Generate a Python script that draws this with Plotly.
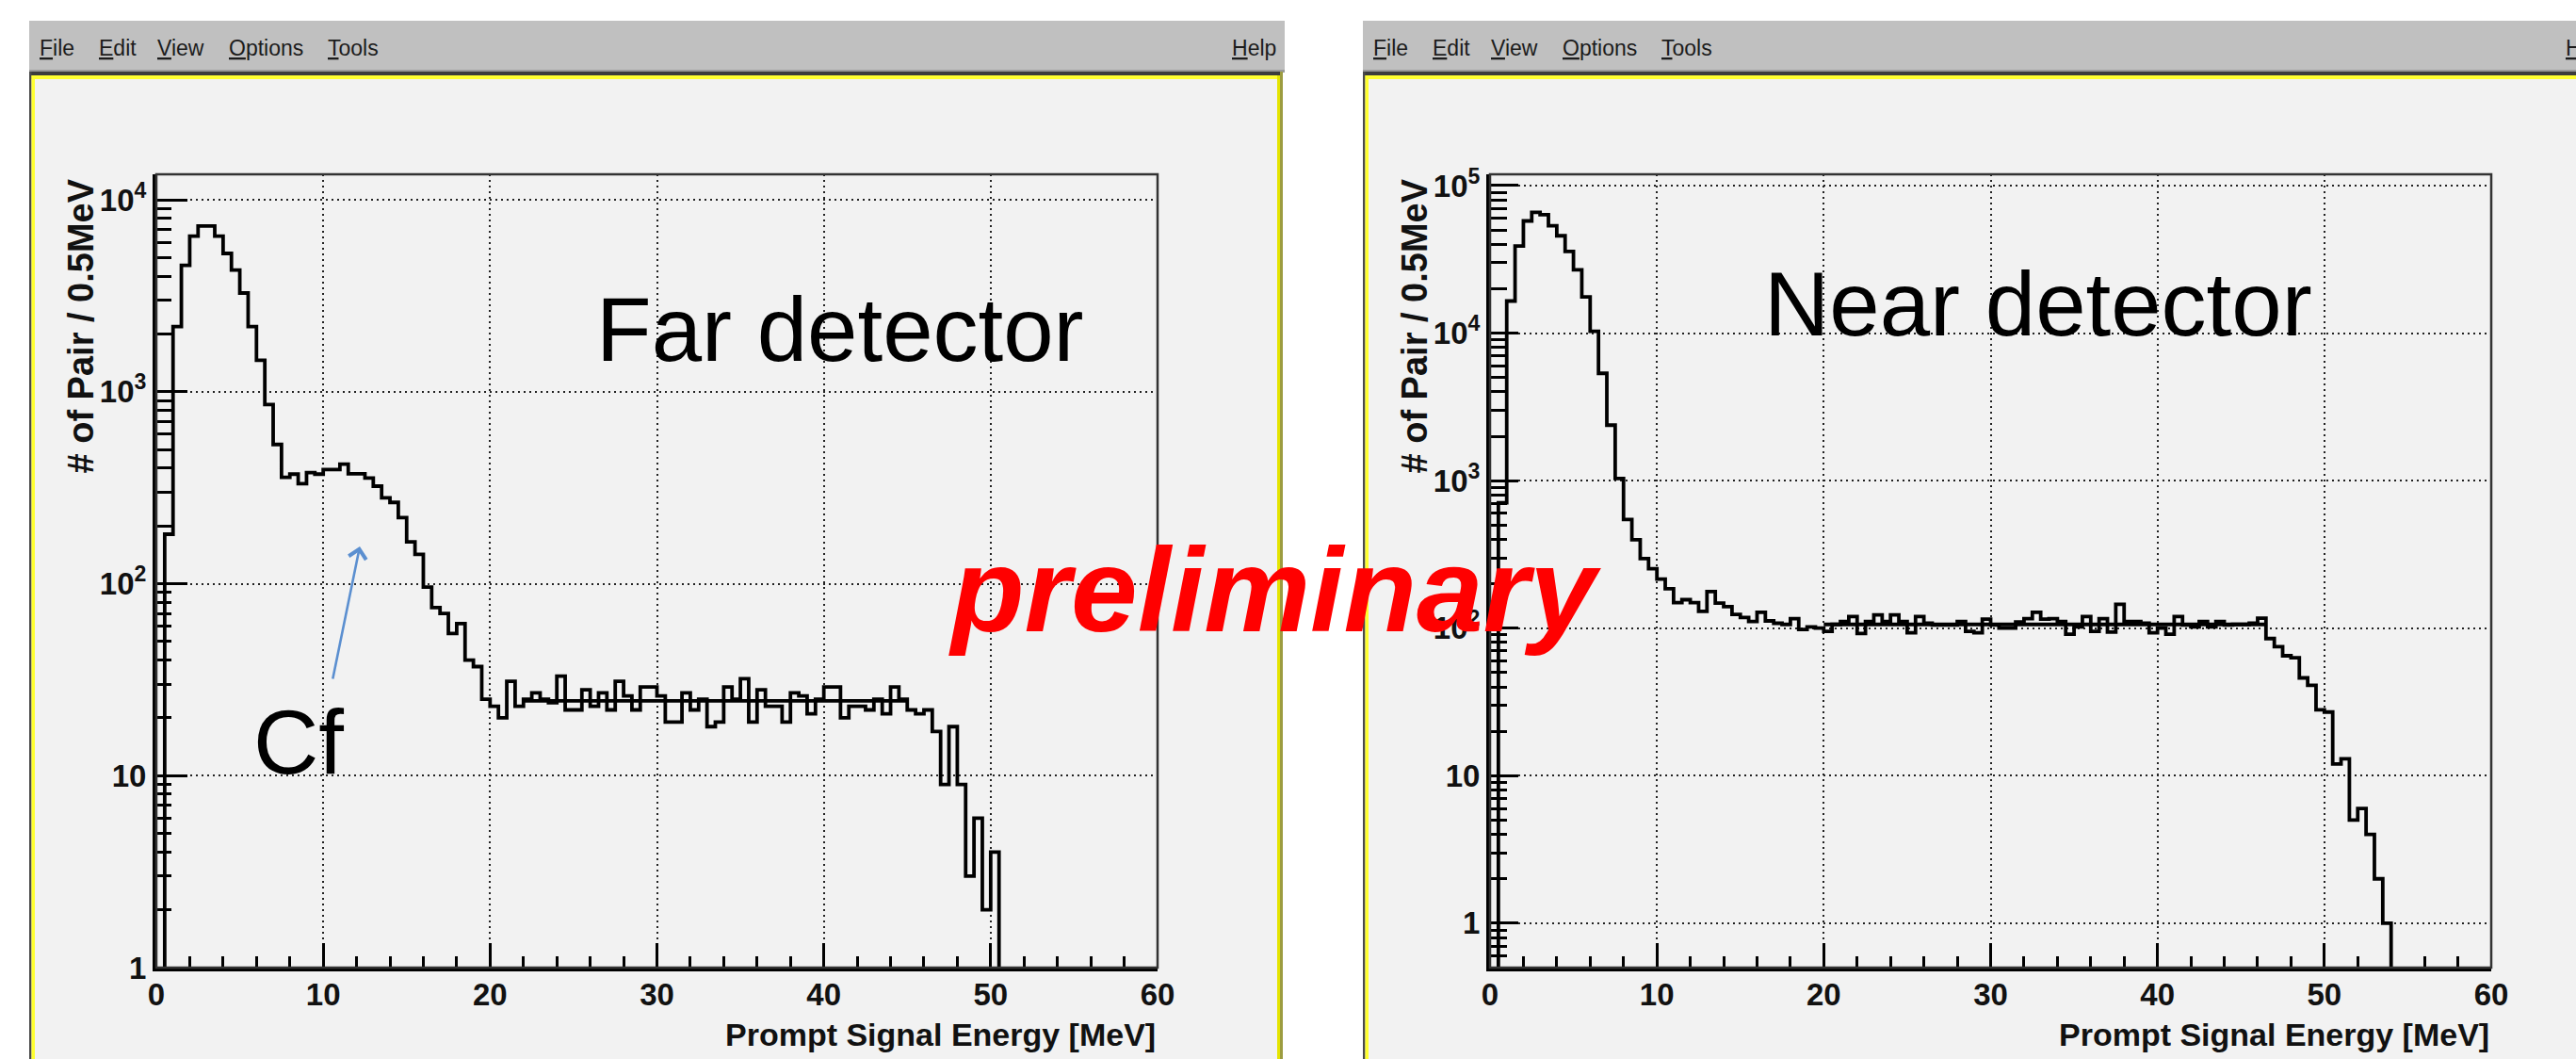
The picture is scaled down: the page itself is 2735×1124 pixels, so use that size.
import numpy as np
import plotly.graph_objects as go

W, H = 2735, 1124

# ---------------- data ----------------
energy_edges_mev = [i * 0.5 for i in range(121)]  # 0.5 MeV bins, 0..60 MeV

far_counts = [0, 181, 2183, 4550, 6460, 7290, 7290, 6460, 5250, 4300,
              3266, 2183, 1459, 858, 531, 358, 372, 332, 379, 372,
              393, 393, 419, 374, 374, 355, 322, 280, 265, 221,
              165, 142, 96, 75, 70, 55, 62, 40, 37, 25,
              23, 20, 31, 23, 25, 27, 25, 24, 33, 22,
              22, 28, 23, 27, 22, 31, 26, 22, 29, 29,
              26, 19, 19, 27, 22, 25, 18, 19, 29, 25,
              32, 19, 28, 23, 23, 19, 27, 26, 21, 25,
              29, 29, 20, 23, 23, 22, 25, 21, 29, 25,
              22, 21, 22, 17, 9, 18, 9, 3, 6, 2,
              4, 0, 0, 0, 0, 0, 0, 0, 0, 0,
              0, 0, 0, 0, 0, 0, 0, 0, 0, 0]

near_counts = [0, 708, 16500, 38900, 57600, 65800, 63500, 53500, 45700, 35800,
               26900, 17600, 10300, 5340, 2377, 1033, 545, 397, 296, 253,
               215, 185, 149, 156, 149, 130, 177, 148, 140, 124,
               118, 111, 128, 112, 108, 106, 116, 98, 102, 100,
               95, 106, 111, 120, 92, 111, 123, 111, 123, 111,
               93, 120, 108, 105, 105, 105, 111, 95, 93, 115,
               105, 100, 100, 110, 116, 128, 115, 116, 111, 91,
               102, 120, 95, 116, 94, 145, 111, 111, 108, 93,
               100, 91, 120, 105, 102, 111, 102, 111, 105, 106,
               106, 108, 117, 85, 75, 65, 63, 46, 41, 28,
               27, 12, 13, 5, 6, 4, 2, 1, 0, 0,
               0, 0, 0, 0, 0, 0, 0, 0, 0, 0]

far_fit_range = [22.0, 45.0]
far_fit_level = [24.5, 24.5]
near_fit_range = [20.0, 46.5]
near_fit_level = [106.0, 106.0]

x_tick_vals = [0, 10, 20, 30, 40, 50, 60]
x_tick_text = ["0", "10", "20", "30", "40", "50", "60"]
x_minor_vals = [v for v in range(2, 60, 2) if v % 10]

far_y_tick_vals = [1, 10, 100, 1000, 10000]
far_y_tick_text = ["1", "10", "10<sup>2</sup>", "10<sup>3</sup>", "10<sup>4</sup>"]
near_y_tick_vals = [1, 10, 100, 1000, 10000, 100000]
near_y_tick_text = ["1", "10", "10<sup>2</sup>", "10<sup>3</sup>", "10<sup>4</sup>", "10<sup>5</sup>"]

menu_items = ["File", "Edit", "View", "Options", "Tools"]

# ---------------- helpers ----------------
FONT = "Liberation Sans, Arial, Helvetica, sans-serif"


def px(x):
    return x / W


def py(y):
    return 1 - y / H


def step_y(counts, floor):
    y = [c if c > 0 else floor for c in counts]
    return y + [y[-1]]


fig = go.Figure()

fig.add_trace(go.Scatter(x=energy_edges_mev, y=step_y(far_counts, 0.01), mode="lines",
                         line=dict(shape="hv", color="black", width=3.8),
                         xaxis="x", yaxis="y", showlegend=False, hoverinfo="skip"))
fig.add_trace(go.Scatter(x=far_fit_range, y=far_fit_level, mode="lines",
                         line=dict(color="black", width=3.8),
                         xaxis="x", yaxis="y", showlegend=False, hoverinfo="skip"))
fig.add_trace(go.Scatter(x=energy_edges_mev, y=step_y(near_counts, 0.01), mode="lines",
                         line=dict(shape="hv", color="black", width=3.8),
                         xaxis="x2", yaxis="y2", showlegend=False, hoverinfo="skip"))
fig.add_trace(go.Scatter(x=near_fit_range, y=near_fit_level, mode="lines",
                         line=dict(color="black", width=3.8),
                         xaxis="x2", yaxis="y2", showlegend=False, hoverinfo="skip"))

PLOT_TOP, PLOT_BOT = 185, 1027
LEFT_PLOT = (166, 1229)
OFFSET = 1416
RIGHT_PLOT = (LEFT_PLOT[0] + OFFSET, LEFT_PLOT[1] + OFFSET)

tickfont = dict(family=FONT, size=33, color="#111", weight="bold")
grid_common = dict(showgrid=True, gridcolor="#222", gridwidth=1.6, griddash="2px,4px")


def xaxis_cfg(domain, anchor):
    return dict(domain=domain, anchor=anchor, range=[0, 60], tickmode="array",
                tickvals=x_tick_vals, ticktext=x_tick_text, ticks="inside", ticklen=26,
                tickwidth=3, tickcolor="black", showline=True, linewidth=4, linecolor="black",
                zeroline=False, tickfont=tickfont, fixedrange=True, automargin=False,
                ticklabelstandoff=-4,
                minor=dict(tickmode="array", tickvals=x_minor_vals, ticks="inside", ticklen=12,
                           tickwidth=3, tickcolor="black", showgrid=False),
                **grid_common)


def yaxis_cfg(domain, anchor, rng, tv, tt, majlen, minlen):
    decades = range(int(np.floor(rng[0])) - 1, int(np.ceil(rng[1])) + 1)
    minor_vals = [m * 10.0 ** d for d in decades for m in range(2, 10)]
    return dict(domain=domain, anchor=anchor, type="log", range=rng, tickmode="array",
                tickvals=tv, ticktext=tt, ticks="inside", ticklen=majlen, tickwidth=3,
                tickcolor="black", showline=True, linewidth=4, linecolor="black",
                zeroline=False, tickfont=tickfont, fixedrange=True, automargin=False,
                minor=dict(tickmode="array", tickvals=minor_vals, ticks="inside", ticklen=minlen,
                           tickwidth=3, tickcolor="black", showgrid=False),
                **grid_common)


ydom = [py(PLOT_BOT), py(PLOT_TOP)]
fig.update_layout(
    width=W, height=H, autosize=False, margin=dict(l=0, r=0, t=0, b=0, pad=0),
    paper_bgcolor="white", plot_bgcolor="#f2f2f2", showlegend=False,
    xaxis=xaxis_cfg([px(LEFT_PLOT[0]), px(LEFT_PLOT[1])], "y"),
    yaxis=yaxis_cfg(ydom, "x", [0, 4.1325], far_y_tick_vals, far_y_tick_text, 33, 16),
    xaxis2=xaxis_cfg([px(RIGHT_PLOT[0]), px(RIGHT_PLOT[1])], "y2"),
    yaxis2=yaxis_cfg(ydom, "x2", [-0.30103, 5.0766], near_y_tick_vals, near_y_tick_text, 30, 18),
)

shapes = []
annotations = []


def prect(x0, y0, x1, y1, color, layer="below"):
    shapes.append(dict(type="rect", xref="paper", yref="paper", x0=px(x0), x1=px(x1),
                       y0=py(y1), y1=py(y0), fillcolor=color, line=dict(width=0), layer=layer))


for ox in (0, OFFSET):
    # window: menubar + canvas
    prect(31 + ox, 22, 1364 + ox, 77, "#c0c0c0")
    prect(31 + ox, 74, 1364 + ox, 77, "#9a9a9a")
    prect(31 + ox, 77, 1362 + ox, H, "#f2f2f2")
    prect(31 + ox, 76, 1362 + ox, 80, "#3c3c3c")
    prect(31 + ox, 80, 1362 + ox, 84, "#ffff30")
    prect(31 + ox, 76, 33.5 + ox, H, "#4a4a4a")
    prect(33.5 + ox, 80, 37 + ox, H, "#ffff30")
    prect(1356 + ox, 80, 1359 + ox, H, "#e4e400")
    prect(1359 + ox, 76, 1362 + ox, H, "#9c9c40")

    # menu text
    menu_x = [40, 103, 165, 241, 346]
    for name, mx in zip(menu_items, menu_x):
        annotations.append(dict(
            xref="paper", yref="paper", x=px(mx + ox), y=py(51), xanchor="left", yanchor="middle",
            text="<span style='text-decoration:underline'>%s</span>%s" % (name[0], name[1:]),
            showarrow=False, font=dict(family=FONT, size=23, color="#1c1c1c")))
    annotations.append(dict(
        xref="paper", yref="paper", x=px(1306 + ox), y=py(51), xanchor="left", yanchor="middle",
        text="<span style='text-decoration:underline'>H</span>elp",
        showarrow=False, font=dict(family=FONT, size=23, color="#1c1c1c")))

# plot frames (top/right thin lines)
for xr, yr in (("x domain", "y domain"), ("x2 domain", "y2 domain")):
    shapes.append(dict(type="rect", xref=xr, yref=yr, x0=0, x1=1, y0=0, y1=1,
                       line=dict(color="#333", width=2.5), layer="above"))

fig.update_layout(shapes=shapes)

# axis titles
for ox in (0, OFFSET):
    annotations.append(dict(
        xref="paper", yref="paper", x=px(1229 + ox), y=py(1098), xanchor="right", yanchor="middle",
        text="Prompt Signal Energy [MeV]", showarrow=False,
        font=dict(family=FONT, size=34, color="#111", weight="bold")))
    annotations.append(dict(
        xref="paper", yref="paper", x=px(85 + ox), y=py(188), xanchor="center", yanchor="top",
        text="# of Pair / 0.5MeV", textangle=-90, showarrow=False,
        font=dict(family=FONT, size=38, color="#111", weight="bold")))

annotations.append(dict(xref="paper", yref="paper", x=px(892), y=py(349),
                        xanchor="center", yanchor="middle", text="Far detector", showarrow=False,
                        font=dict(family=FONT, size=96, color="black")))
annotations.append(dict(xref="paper", yref="paper", x=px(2164), y=py(323),
                        xanchor="center", yanchor="middle", text="Near detector", showarrow=False,
                        font=dict(family=FONT, size=96, color="black")))
annotations.append(dict(xref="paper", yref="paper", x=px(317), y=py(787),
                        xanchor="center", yanchor="middle", text="Cf", showarrow=False,
                        font=dict(family=FONT, size=96, color="black")))
annotations.append(dict(xref="paper", yref="paper", x=px(382), y=py(580),
                        ax=-29, ay=142, axref="pixel", ayref="pixel",
                        text="", showarrow=True, arrowhead=4, arrowsize=1.4, arrowwidth=2.6,
                        arrowcolor="#5b8fd0"))
annotations.append(dict(xref="paper", yref="paper", x=px(1353), y=py(626),
                        xanchor="center", yanchor="middle", text="<b><i>preliminary</i></b>",
                        showarrow=False, font=dict(family=FONT, size=127, color="#ff0000")))

fig.update_layout(annotations=annotations)

fig.write_html("out.html")
